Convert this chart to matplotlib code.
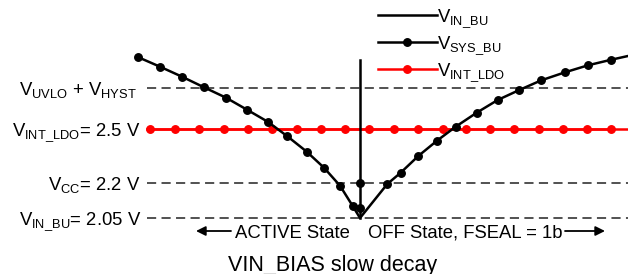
import matplotlib
matplotlib.use('Agg')
import matplotlib.pyplot as plt
from matplotlib.legend_handler import HandlerLine2D

plt.rcParams['font.family'] = ['Liberation Sans', 'DejaVu Sans']
plt.rcParams['mathtext.fontset'] = 'custom'
plt.rcParams['mathtext.rm'] = 'Liberation Sans'
plt.rcParams['mathtext.it'] = 'Liberation Sans'
plt.rcParams['mathtext.bf'] = 'Liberation Sans:bold'

# schematic coordinates (time to the right, level measured downward on the sketch)
t_sys = [137.7, 160, 182, 204, 226, 247, 267.7, 287, 306.5, 324, 340, 352.7, 360,
         387.3, 400.7, 418.3, 437, 455.7, 476.7, 497.7, 519.3, 541.3, 565, 588, 611.3, 628]
v_sys = [57, 66.7, 76.7, 87.3, 97.7, 109.7, 121.7, 136, 151.5, 167.7, 185.7, 206, 218,
         184, 172.7, 156, 140.7, 126.7, 112.7, 100, 90, 80.3, 72.3, 65.3, 59.7, 56]
# samples on the VSYS curve that carry a dot (tip and the right edge have none)
sys_dots = [i for i in range(len(t_sys)) if i not in (12, 25)]
t_sys_extra = [360, 360]
v_sys_extra = [208, 183]

t_ldo = [150.3, 174.5, 199, 223.5, 248, 272.3, 296.5, 321, 345, 369.3, 393.7, 417.7,
         442.5, 466, 490, 514.3, 538.7, 563, 587.3, 611.3]
v_ldo = 129

t_in = [360, 360]
v_in = [60, 218]

levels = [88, 183, 218]
level_labels = ['$V_{UVLO}$ + $V_{HYST}$', '$V_{CC}$= 2.2 V', '$V_{IN\\_BU}$= 2.05 V']
ldo_label = '$V_{INT\\_LDO}$= 2.5 V'


class LeftMarker(HandlerLine2D):
    # put the single legend marker near the left end of the sample line
    def get_xdata(self, legend, xdescent, ydescent, width, height, fontsize):
        return [-xdescent, -xdescent + width], [-xdescent + 0.14 * width]


fig = plt.figure(figsize=(6.28, 2.74), dpi=100)
ax = fig.add_axes([0, 0, 1, 1])
ax.set_xlim(0, 628)
ax.set_ylim(274, 0)
ax.axis('off')

fs = 13.3

# dashed reference levels
for lv in levels:
    ax.plot([147, 628], [lv, lv], color='#222222', lw=1.1, dashes=(6, 3.5))

# red LDO line
ax.plot([147, 628], [v_ldo, v_ldo], color='#ff0000', lw=1.8, zorder=3)
ldo_line, = ax.plot(t_ldo, [v_ldo] * len(t_ldo), color='#ff0000', lw=1.8, marker='o',
                    ms=5.4, zorder=3)

# VIN_BU vertical
in_line, = ax.plot(t_in, v_in, color='black', lw=1.8, zorder=4)

# VSYS curve
sys_line, = ax.plot(t_sys, v_sys, color='black', lw=1.8, marker='o', ms=5.4,
                    markevery=sys_dots, zorder=5)
ax.plot(t_sys_extra, v_sys_extra, 'o', color='black', ms=5.4, zorder=5)

# level labels
for lv, lab in zip(levels, level_labels):
    x = 137 if lv == 88 else 141
    ax.text(x, lv + 6.6, lab, ha='right', va='baseline', fontsize=fs)
ax.text(141, v_ldo + 6.6, ldo_label, ha='right', va='baseline', fontsize=fs)

# state annotations
ax.text(235, 237.5, 'ACTIVE State', ha='left', va='baseline', fontsize=fs)
ax.annotate('', xy=(196, 231), xytext=(231, 231),
            arrowprops=dict(arrowstyle='-|>', color='black', lw=1.3,
                            mutation_scale=14, shrinkA=0, shrinkB=0))
ax.text(368, 237.5, 'OFF State, FSEAL = 1b', ha='left', va='baseline', fontsize=fs)
ax.annotate('', xy=(605, 231), xytext=(565, 231),
            arrowprops=dict(arrowstyle='-|>', color='black', lw=1.3,
                            mutation_scale=14, shrinkA=0, shrinkB=0))

ax.text(333, 270.5, 'VIN_BIAS slow decay', ha='center', va='baseline', fontsize=15.5)

leg = ax.legend([in_line, sys_line, ldo_line],
                ['$V_{IN\\_BU}$', '$V_{SYS\\_BU}$', '$V_{INT\\_LDO}$'],
                handler_map={sys_line: LeftMarker(), ldo_line: LeftMarker()},
                loc='upper left', bbox_to_anchor=(373 / 628 - 0.012, 1.02),
                frameon=False, fontsize=fs, handlelength=3.15, handletextpad=0.0,
                labelspacing=0.25, borderpad=0.2)

fig.savefig('out.png', dpi=100)
